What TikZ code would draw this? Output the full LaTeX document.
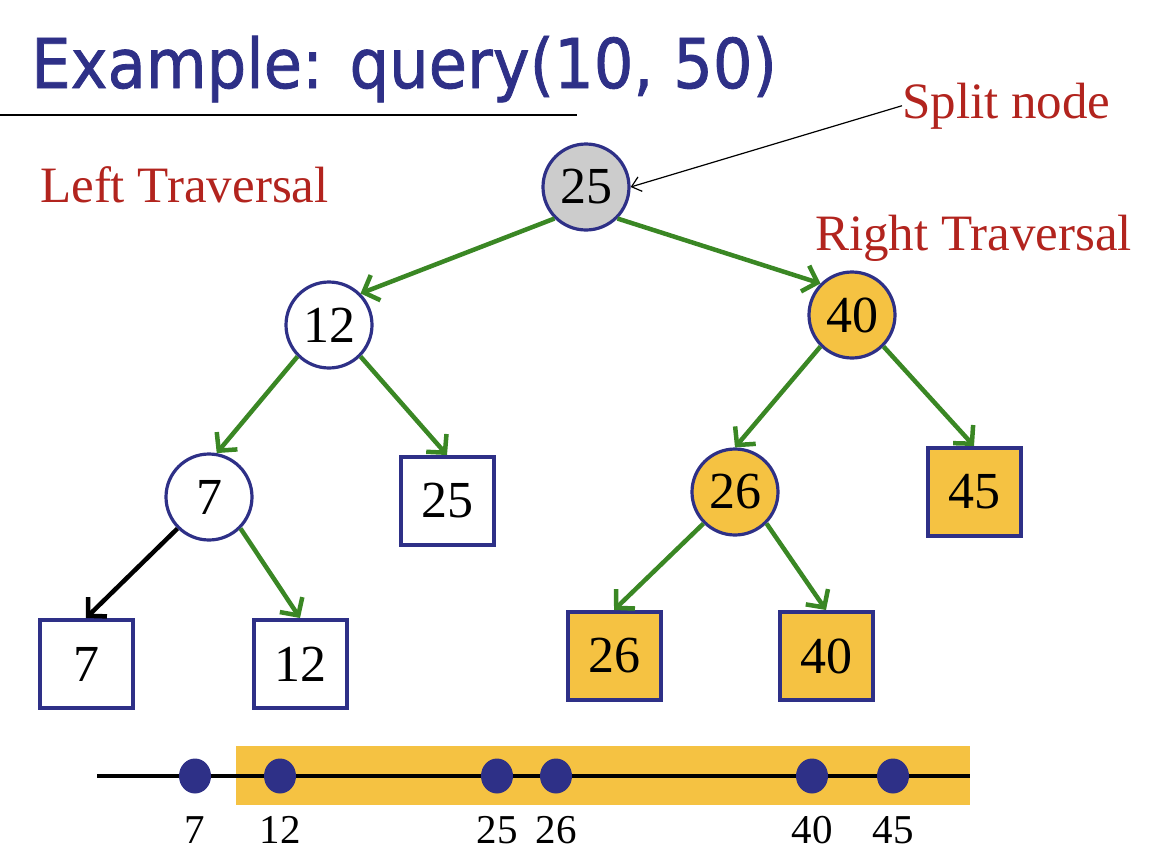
\documentclass[tikz,border=0pt]{standalone}
\usepackage{fontspec}
\setmainfont{Liberation Serif}
\newfontfamily\titlefont[FakeBold=1.2]{DejaVu Sans}
\usetikzlibrary{arrows.meta,shapes.geometric}
\definecolor{navy}{RGB}{46,48,135}
\definecolor{gold}{RGB}{245,194,66}
\definecolor{leafgreen}{RGB}{58,135,36}
\definecolor{redtext}{RGB}{178,36,30}
\definecolor{splitgray}{RGB}{204,204,204}
\tikzset{
  inode/.style={circle, draw=navy, line width=3.2pt, minimum size=86pt, inner sep=0pt, font=\fontsize{52}{54}\selectfont},
  leaf/.style={rectangle, draw=navy, line width=4pt, minimum width=93pt, minimum height=88pt, inner sep=0pt, font=\fontsize{52}{54}\selectfont},
  edge/.style={draw=leafgreen, line width=4.5pt, -{Straight Barb[length=13pt,width=27pt,line width=4.5pt]}},
  blackedge/.style={edge, draw=black},
  label/.style={text=redtext, anchor=base west, inner sep=0pt, font=\fontsize{51}{53}\selectfont},
  dot/.style={ellipse, fill=navy, minimum width=32pt, minimum height=35pt, inner sep=0pt},
  axislabel/.style={anchor=base, inner sep=0pt, font=\fontsize{41}{43}\selectfont}
}
\begin{document}
\begin{tikzpicture}[x=1pt,y=-1pt]
\useasboundingbox (0,0) rectangle (1162,860);
% title
\node[anchor=base west, inner sep=0pt, text=navy, font=\titlefont\fontsize{68.6}{70}\selectfont] (title) at (31,88) {\scalebox{0.91}[1]{Example: query(10, 50)}};
\draw[line width=2.2pt] (0,115) -- (577,115);
% labels
\node[label] (split) at (902,118) {Split node};
\node[label] (lefttrav) at (40,202) {Left Traversal};
\node[label] (righttrav) at (815,250) {Right Traversal};
% tree nodes
\node[inode, fill=splitgray] (r) at (586,187) {25};
\node[inode, fill=white] (n12) at (329,325) {12};
\node[inode, fill=gold] (n40) at (852,315) {40};
\node[inode, fill=white] (n7) at (209,497) {7};
\node[inode, fill=gold] (n26) at (735,492) {26};
\node[leaf, fill=white] (l25) at (447,501) {25};
\node[leaf, fill=gold] (l45) at (974,492) {45};
\node[leaf, fill=white] (l7) at (86,664) {7};
\node[leaf, fill=white] (l12) at (300,664) {12};
\node[leaf, fill=gold] (l26) at (614,656) {26};
\node[leaf, fill=gold] (l40) at (826,656) {40};
% edges
\draw[edge] (r.south west) -- (n12.north east);
\draw[edge] (r.south east) -- (n40.north west);
\draw[edge] (n12.south west) -- (n7.80);
\draw[edge] (n12.south east) -- (l25.north);
\draw[edge] (n40.south west) -- (n26.north);
\draw[edge] (n40.south east) -- (l45.north);
\draw[blackedge] (n7.south west) -- (l7.north);
\draw[edge] (n7.south east) -- (l12.north);
\draw[edge] (n26.south west) -- (l26.north);
\draw[edge] (n26.south east) -- (l40.north);
% split arrow
\draw[line width=1.2pt, -{Straight Barb[length=9pt,width=15pt,line width=1.2pt]}] (split.west) -- (r.east);
% number line
\fill[gold] (236,746) rectangle (970,805);
\coordinate (axl) at (97,776);
\coordinate (axr) at (970,776);
\draw[line width=4pt] (axl) -- (axr);
\foreach \x/\v in {195/7, 280/12, 497/25, 556/26, 812/40, 893/45} {
  \node[dot] (d\v) at (\x,776) {};
  \node[axislabel] (t\v) at (\x,843) {\v};
}
\end{tikzpicture}
\end{document}
